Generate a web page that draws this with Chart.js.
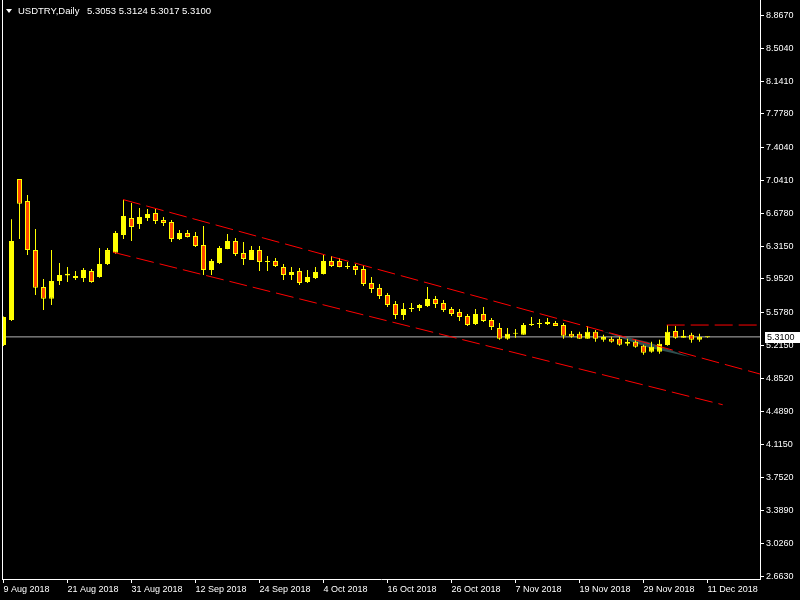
<!DOCTYPE html>
<html>
<head>
<meta charset="utf-8">
<script src="https://cdn.jsdelivr.net/npm/chart.js@4.4.1/dist/chart.umd.min.js"></script>
<style>
  html, body { margin: 0; padding: 0; background: #000; }
  canvas { display: block; }
</style>
</head>
<body>
<canvas id="myChart" width="800" height="600"></canvas>
<script>
// trading days shown on the chart
const days = [
  '9 Aug 2018','10 Aug 2018','13 Aug 2018','14 Aug 2018','15 Aug 2018','16 Aug 2018','17 Aug 2018','20 Aug 2018',
  '21 Aug 2018','22 Aug 2018','23 Aug 2018','24 Aug 2018','27 Aug 2018','28 Aug 2018','29 Aug 2018','30 Aug 2018',
  '31 Aug 2018','3 Sep 2018','4 Sep 2018','5 Sep 2018','6 Sep 2018','7 Sep 2018','10 Sep 2018','11 Sep 2018',
  '12 Sep 2018','13 Sep 2018','14 Sep 2018','17 Sep 2018','18 Sep 2018','19 Sep 2018','20 Sep 2018','21 Sep 2018',
  '24 Sep 2018','25 Sep 2018','26 Sep 2018','27 Sep 2018','28 Sep 2018','1 Oct 2018','2 Oct 2018','3 Oct 2018',
  '4 Oct 2018','5 Oct 2018','8 Oct 2018','9 Oct 2018','10 Oct 2018','11 Oct 2018','12 Oct 2018','15 Oct 2018',
  '16 Oct 2018','17 Oct 2018','18 Oct 2018','19 Oct 2018','22 Oct 2018','23 Oct 2018','24 Oct 2018','25 Oct 2018',
  '26 Oct 2018','29 Oct 2018','30 Oct 2018','31 Oct 2018','1 Nov 2018','2 Nov 2018','5 Nov 2018','6 Nov 2018',
  '7 Nov 2018','8 Nov 2018','9 Nov 2018','12 Nov 2018','13 Nov 2018','14 Nov 2018','15 Nov 2018','16 Nov 2018',
  '19 Nov 2018','20 Nov 2018','21 Nov 2018','22 Nov 2018','23 Nov 2018','26 Nov 2018','27 Nov 2018','28 Nov 2018',
  '29 Nov 2018','30 Nov 2018','3 Dec 2018','4 Dec 2018','5 Dec 2018','6 Dec 2018','7 Dec 2018','10 Dec 2018',
  '11 Dec 2018'
];

const opens = [
  5.220, 5.497, 7.057, 6.814, 6.271, 5.862, 5.733, 5.928, 5.990, 5.962,
  5.962, 6.039, 5.973, 6.117, 6.242, 6.438, 6.626, 6.559, 6.626, 6.681,
  6.603, 6.581, 6.393, 6.460, 6.427, 6.327, 6.050, 6.128, 6.283, 6.371,
  6.238, 6.161, 6.271, 6.139, 6.150, 6.083, 5.995, 6.039, 5.917, 5.962,
  6.006, 6.150, 6.150, 6.083, 6.095, 6.061, 5.906, 5.851, 5.774, 5.674,
  5.552, 5.619, 5.630, 5.652, 5.729, 5.685, 5.619, 5.586, 5.541, 5.453,
  5.564, 5.497, 5.409, 5.289, 5.344, 5.333, 5.442, 5.453, 5.453, 5.464,
  5.442, 5.344, 5.344, 5.289, 5.366, 5.278, 5.289, 5.289, 5.234, 5.256,
  5.212, 5.145, 5.145, 5.220, 5.376, 5.300, 5.333, 5.278, 5.3053
];
const highs = [
  5.536, 6.611, 7.057, 6.880, 6.504, 5.951, 6.271, 6.128, 6.083, 6.039,
  6.072, 6.061, 6.294, 6.294, 6.482, 6.825, 6.792, 6.736, 6.725, 6.725,
  6.637, 6.603, 6.493, 6.493, 6.471, 6.537, 6.172, 6.316, 6.449, 6.404,
  6.360, 6.316, 6.316, 6.205, 6.183, 6.117, 6.083, 6.072, 6.050, 6.083,
  6.216, 6.205, 6.183, 6.139, 6.117, 6.106, 5.973, 5.895, 5.796, 5.707,
  5.685, 5.685, 5.674, 5.862, 5.762, 5.718, 5.641, 5.619, 5.564, 5.619,
  5.641, 5.519, 5.464, 5.409, 5.398, 5.464, 5.530, 5.508, 5.519, 5.486,
  5.464, 5.376, 5.366, 5.431, 5.387, 5.333, 5.311, 5.311, 5.289, 5.278,
  5.223, 5.256, 5.278, 5.442, 5.431, 5.387, 5.355, 5.344, 5.3124
];
const lows = [
  5.210, 5.486, 6.393, 6.216, 5.774, 5.608, 5.663, 5.884, 5.917, 5.940,
  5.917, 5.910, 5.965, 6.106, 6.230, 6.393, 6.371, 6.504, 6.592, 6.559,
  6.537, 6.360, 6.382, 6.410, 6.305, 5.995, 5.995, 6.117, 6.280, 6.205,
  6.106, 6.161, 6.039, 6.039, 6.083, 5.940, 5.940, 5.884, 5.906, 5.950,
  6.000, 6.083, 6.080, 6.061, 5.995, 5.873, 5.796, 5.729, 5.641, 5.508,
  5.497, 5.585, 5.597, 5.640, 5.630, 5.586, 5.541, 5.486, 5.431, 5.442,
  5.475, 5.387, 5.278, 5.278, 5.300, 5.333, 5.431, 5.409, 5.442, 5.430,
  5.289, 5.300, 5.289, 5.289, 5.256, 5.256, 5.245, 5.212, 5.212, 5.190,
  5.112, 5.134, 5.123, 5.212, 5.289, 5.300, 5.245, 5.256, 5.3017
];
const closes = [
  5.530, 6.371, 6.784, 6.271, 5.854, 5.733, 5.928, 5.995, 6.010, 5.984,
  6.050, 5.917, 6.117, 6.271, 6.460, 6.648, 6.526, 6.637, 6.670, 6.592,
  6.570, 6.393, 6.460, 6.416, 6.316, 6.050, 6.150, 6.294, 6.371, 6.227,
  6.172, 6.271, 6.139, 6.150, 6.095, 5.995, 6.028, 5.906, 5.973, 6.028,
  6.150, 6.095, 6.083, 6.095, 6.050, 5.895, 5.840, 5.762, 5.663, 5.552,
  5.619, 5.630, 5.663, 5.729, 5.674, 5.608, 5.564, 5.530, 5.442, 5.564,
  5.486, 5.420, 5.289, 5.344, 5.355, 5.442, 5.453, 5.464, 5.475, 5.431,
  5.322, 5.311, 5.289, 5.366, 5.289, 5.310, 5.256, 5.223, 5.256, 5.200,
  5.134, 5.200, 5.234, 5.366, 5.300, 5.322, 5.278, 5.311, 5.3100
];

// axis ticks
const priceTicks = [2.663, 3.026, 3.389, 3.752, 4.115, 4.489, 4.852, 5.215, 5.578,
  5.952, 6.315, 6.678, 7.041, 7.404, 7.778, 8.141, 8.504, 8.867];
const dateTicks = [0, 8, 16, 24, 32, 40, 48, 56, 64, 72, 80, 88];

// drawn objects (bar index, price)
const upperTrend = [{x: 14.94, y: 6.830}, {x: 94.56, y: 4.899}];
const lowerTrend = [{x: 13.69, y: 6.247}, {x: 89.9, y: 4.559}];
const levelLine = [{x: 82.9, y: 5.441}, {x: 94.56, y: 5.441}];
const wedgeTop = [{x: 74.94, y: 5.3695}, {x: 80.56, y: 5.2533}, {x: 85.81, y: 5.0872}];
const wedgeBottom = [{x: 74.94, y: 5.3695}, {x: 80.56, y: 5.1924}, {x: 85.81, y: 5.0872}];

const lastPrice = 5.3100;
const xMin = -0.1875, xMax = 94.5625;
const yMin = 2.6302, yMax = 9.0386;

const bull = '#ffff00';
const bear = '#ff4500';
const font = { family: '"Liberation Sans", Arial, sans-serif', size: 9 };

const overlay = {
  id: 'overlay',
  afterDraw(chart) {
    const c = chart.ctx, a = chart.chartArea;
    c.save();
    c.fillStyle = '#fff';
    c.fillRect(a.left, a.top, 1, a.bottom - a.top);

    // current price box
    const py = Math.round(chart.scales.y.getPixelForValue(lastPrice));
    c.fillRect(a.right + 5, py - 5, 35, 11);
    c.fillStyle = '#000';
    c.font = '9px "Liberation Sans", Arial, sans-serif';
    c.textBaseline = 'middle';
    c.fillText(lastPrice.toFixed(4), a.right + 7, py + 0.5);

    // header
    c.fillStyle = '#fff';
    c.beginPath();
    c.moveTo(6, 9); c.lineTo(12, 9); c.lineTo(9, 13); c.closePath();
    c.fill();
    c.font = '9.5px "Liberation Sans", Arial, sans-serif';
    c.fillText('USDTRY,Daily', 18, 11.5);
    c.fillText([opens[88], highs[88], lows[88], closes[88]].map(v => v.toFixed(4)).join(' '), 87, 11.5);
    c.restore();
  }
};

const ctx = document.getElementById('myChart');
new Chart(ctx, {
  type: 'bar',
  plugins: [overlay],
  data: {
    datasets: [
      {
        type: 'line', data: wedgeTop, borderWidth: 0, pointRadius: 0,
        backgroundColor: '#2f4f4f', fill: false, order: 9
      },
      {
        type: 'line', data: wedgeBottom, borderWidth: 0, pointRadius: 0,
        backgroundColor: '#2f4f4f', fill: '-1', order: 8
      },
      {
        type: 'line', data: [{x: xMin, y: lastPrice}, {x: xMax, y: lastPrice}],
        borderColor: '#b4b4b4', borderWidth: 1, pointRadius: 0, order: 7
      },
      {
        data: days.map((d, i) => ({x: i, y: [lows[i], highs[i]]})),
        backgroundColor: bull, barThickness: 1, borderWidth: 0,
        inflateAmount: 0, grouped: false, order: 5
      },
      {
        data: days.map((d, i) => ({x: i, y: [opens[i], closes[i]]})),
        backgroundColor: days.map((d, i) => closes[i] >= opens[i] ? bull : bear),
        borderColor: bull, borderWidth: 1, borderSkipped: false,
        barThickness: 5, minBarLength: 1, inflateAmount: 0, grouped: false, order: 4
      },
      {
        type: 'line', data: upperTrend, borderColor: '#ff0000', borderWidth: 1,
        borderDash: [18, 6], pointRadius: 0, order: 1
      },
      {
        type: 'line', data: lowerTrend, borderColor: '#ff0000', borderWidth: 1,
        borderDash: [18, 6], pointRadius: 0, order: 1
      },
      {
        type: 'line', data: levelLine, borderColor: '#ff0000', borderWidth: 1,
        borderDash: [18, 6], pointRadius: 0, order: 1
      }
    ]
  },
  options: {
    responsive: false,
    animation: false,
    events: [],
    layout: { padding: { left: 2, top: 0, right: 0, bottom: 0 } },
    plugins: {
      legend: { display: false },
      tooltip: { enabled: false }
    },
    scales: {
      x: {
        type: 'linear',
        min: xMin, max: xMax,
        bounds: 'data',
        offset: false,
        grid: { drawOnChartArea: false, color: '#fff', tickLength: 4, offset: false },
        border: { color: '#fff' },
        afterBuildTicks: s => { s.ticks = dateTicks.map(v => ({value: v})); },
        afterFit: s => { s.height = 21; s.paddingLeft = 0; s.paddingRight = 0; },
        ticks: {
          color: '#fff', font: font, padding: 1, align: 'start',
          autoSkip: false, maxRotation: 0, minRotation: 0,
          callback: v => days[v]
        }
      },
      y: {
        position: 'right',
        min: yMin, max: yMax,
        bounds: 'data',
        grid: { drawOnChartArea: false, color: '#fff', tickLength: 4 },
        border: { color: '#fff' },
        afterBuildTicks: s => { s.ticks = priceTicks.map(v => ({value: v})); },
        afterFit: s => { s.width = 40; s.paddingTop = 0; s.paddingBottom = 0; },
        ticks: {
          color: '#fff', font: font, padding: 2,
          callback: v => v.toFixed(4)
        }
      }
    }
  }
});
</script>
</body>
</html>
